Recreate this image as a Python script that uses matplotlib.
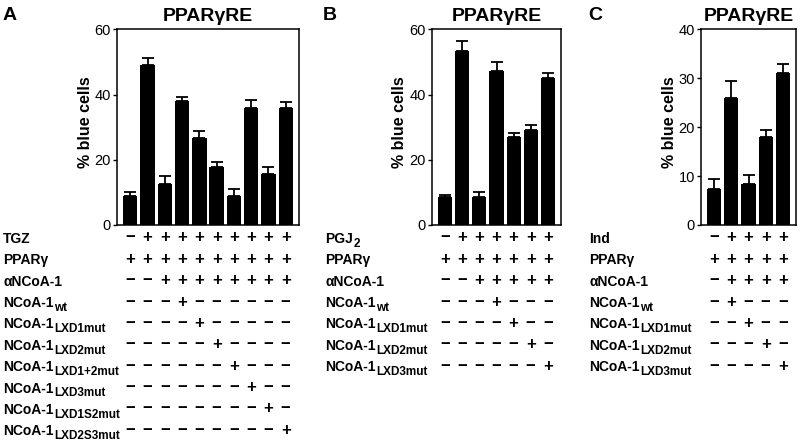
import matplotlib
matplotlib.use("Agg")
import matplotlib.pyplot as plt
from matplotlib.text import Annotation

plt.rcParams['font.family'] = ['Liberation Sans', 'DejaVu Sans']

# ---------------- data ----------------
a_vals = [8.9, 49.1, 12.6, 37.9, 26.7, 17.7, 8.9, 35.8, 15.5, 36.0]
a_errs = [1.3, 2.1, 2.3, 1.2, 2.2, 1.6, 2.0, 2.5, 2.3, 1.8]
b_vals = [8.5, 53.5, 8.5, 47.2, 27.1, 29.0, 45.0]
b_errs = [0.8, 3.0, 1.6, 2.7, 1.2, 1.6, 1.7]
c_vals = [7.4, 25.9, 8.4, 18.0, 31.0]
c_errs = [2.1, 3.5, 1.8, 1.5, 2.0]

a_yticks = [0, 20, 40, 60]
b_yticks = [0, 20, 40, 60]
c_yticks = [0, 10, 20, 30, 40]

# (main label, subscript, signs)
a_rows = [
    ("TGZ", "", "-+++++++++"),
    ("PPARγ", "", "++++++++++"),
    ("αNCoA-1", "", "--++++++++"),
    ("NCoA-1", "wt", "---+------"),
    ("NCoA-1", "LXD1mut", "----+-----"),
    ("NCoA-1", "LXD2mut", "-----+----"),
    ("NCoA-1", "LXD1+2mut", "------+---"),
    ("NCoA-1", "LXD3mut", "-------+--"),
    ("NCoA-1", "LXD1S2mut", "--------+-"),
    ("NCoA-1", "LXD2S3mut", "---------+"),
]
b_rows = [
    ("PGJ", "2", "-++++++"),
    ("PPARγ", "", "+++++++"),
    ("αNCoA-1", "", "--+++++"),
    ("NCoA-1", "wt", "---+---"),
    ("NCoA-1", "LXD1mut", "----+--"),
    ("NCoA-1", "LXD2mut", "-----+-"),
    ("NCoA-1", "LXD3mut", "------+"),
]
c_rows = [
    ("Ind", "", "-++++"),
    ("PPARγ", "", "+++++"),
    ("αNCoA-1", "", "-++++"),
    ("NCoA-1", "wt", "-+---"),
    ("NCoA-1", "LXD1mut", "--+--"),
    ("NCoA-1", "LXD2mut", "---+-"),
    ("NCoA-1", "LXD3mut", "----+"),
]

W, H = 800, 441
fig = plt.figure(figsize=(W / 100, H / 100), dpi=100)


def fx(x):
    return x / W


def fy(y):
    return 1 - y / H


panels = [
    dict(letter="A", letter_x=3, left=117, right=299, vals=a_vals, errs=a_errs,
         yticks=a_yticks, rows=a_rows, label_x=3, ylabel_x=85),
    dict(letter="B", letter_x=323, left=432, right=561, vals=b_vals, errs=b_errs,
         yticks=b_yticks, rows=b_rows, label_x=325, ylabel_x=400),
    dict(letter="C", letter_x=588, left=701, right=796, vals=c_vals, errs=c_errs,
         yticks=c_yticks, rows=c_rows, label_x=589, ylabel_x=670),
]

top, bottom = 29.3, 225.0
row0_y = 237.8
row_dy = 21.4

for p in panels:
    ax = fig.add_axes([fx(p["left"]), fy(bottom), fx(p["right"] - p["left"]),
                       (bottom - top) / H])
    n = len(p["vals"])
    xs = list(range(n))
    ax.bar(xs, p["vals"], width=0.83, color="black",
           yerr=[[0] * n, p["errs"]], capsize=4.5,
           error_kw=dict(elinewidth=1.3, capthick=1.3, ecolor="black"))
    ax.set_xlim(-0.77, n - 1 + 0.77)
    ax.set_ylim(p["yticks"][0], p["yticks"][-1])
    ax.set_yticks(p["yticks"])
    ax.set_xticks([])
    ax.tick_params(axis="y", direction="out", length=3, width=1, pad=1.5,
                   labelsize=10.5)
    for s in ax.spines.values():
        s.set_linewidth(1.1)
    ax.set_title("PPARγRE", fontsize=14, fontweight="bold", pad=6)
    fig.text(fx(p["ylabel_x"]), fy((top + bottom) / 2 - 5), "% blue cells",
             rotation=90, ha="center", va="center", fontsize=11.5,
             fontweight="bold")
    fig.text(fx(p["letter_x"]), fy(15), p["letter"], ha="left", va="center",
             fontsize=14, fontweight="bold")

    # table of +/- signs below the bars, aligned with bar positions
    for i, (main, sub, signs) in enumerate(p["rows"]):
        yc = row0_y + i * row_dy
        t = fig.text(fx(p["label_x"]), fy(yc + 5), main, ha="left",
                     va="baseline", fontsize=10, fontweight="bold")
        if sub:
            ann = Annotation(sub, xy=(1, 0), xycoords=t, xytext=(0.3, -0.6),
                             textcoords="offset points", ha="left",
                             va="baseline", fontsize=8.5, fontweight="bold")
            fig.add_artist(ann)
        for j, s in enumerate(signs):
            xd = ax.transData.transform((j, 0))[0]
            xf = fig.transFigure.inverted().transform((xd, 0))[0]
            ch = "+" if s == "+" else "\u2212"
            fig.text(xf, fy(yc), ch, ha="center", va="center", fontsize=12,
                     fontweight="bold")

fig.savefig("out.png", dpi=100)
